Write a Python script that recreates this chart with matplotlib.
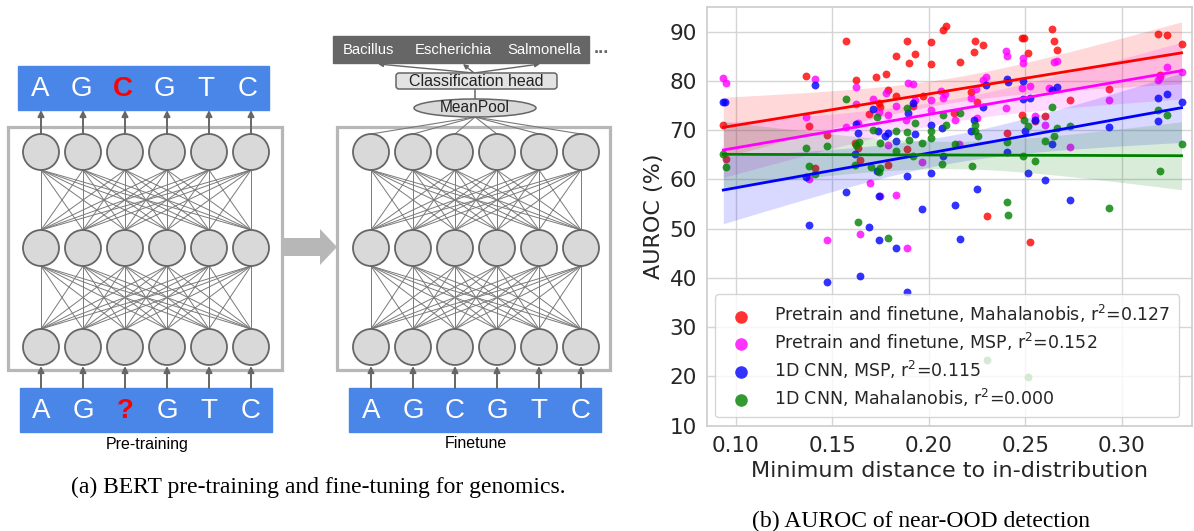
import numpy as np
import matplotlib
matplotlib.use("Agg")
import matplotlib.pyplot as plt
from matplotlib.patches import Circle, Rectangle, FancyBboxPatch, Ellipse, Polygon

# ---- panel (b) data ----
red_x = [0.0936, 0.0948, 0.1363, 0.1381, 0.1411, 0.1473, 0.1571, 0.1623, 0.1618, 0.1635,
         0.1644, 0.1692, 0.1727, 0.1779, 0.1791, 0.1744, 0.1748, 0.1791, 0.1831, 0.1829,
         0.1886, 0.1900, 0.1929, 0.1886, 0.1920, 0.1969, 0.2012, 0.2012, 0.2072, 0.2090,
         0.2133, 0.2162, 0.2219, 0.2240, 0.2235, 0.2283, 0.2249, 0.2300, 0.2404, 0.2482,
         0.2496, 0.2516, 0.2482, 0.2525, 0.2551, 0.2600, 0.2637, 0.2651, 0.2663, 0.2732,
         0.2934, 0.3186, 0.3233, 0.3310, 0.3198]
red_y = [71.0, 64.2, 81.1, 70.8, 62.3, 69.1, 88.1, 80.2, 67.4, 66.3,
         64.0, 73.3, 80.8, 81.4, 78.1, 75.5, 74.8, 63.0, 85.1, 76.9,
         88.1, 83.6, 85.4, 66.1, 75.0, 76.9, 88.0, 83.4, 90.4, 91.2,
         73.6, 83.9, 77.7, 88.2, 85.8, 87.4, 75.7, 52.6, 69.4, 88.8,
         88.8, 85.6, 73.1, 47.3, 71.8, 72.9, 90.5, 88.2, 86.3, 76.2,
         78.3, 89.5, 89.3, 87.6, 81.2]

mag_x = [0.0936, 0.0948, 0.1411, 0.1363, 0.1380, 0.1473, 0.1570, 0.1623, 0.1623, 0.1635,
         0.1644, 0.1696, 0.1713, 0.1744, 0.1787, 0.1779, 0.1791, 0.1748, 0.1830, 0.1830,
         0.1895, 0.1920, 0.1882, 0.1886, 0.1929, 0.1964, 0.2012, 0.2012, 0.2064, 0.2085,
         0.2074, 0.2136, 0.2159, 0.2219, 0.2245, 0.2249, 0.2283, 0.2296, 0.2400, 0.2407,
         0.2400, 0.2487, 0.2490, 0.2482, 0.2525, 0.2551, 0.2600, 0.2625, 0.2651, 0.2663,
         0.2732, 0.2934, 0.3198, 0.3190, 0.3233, 0.3310]
mag_y = [80.6, 79.6, 80.4, 72.7, 60.0, 47.6, 70.7, 78.7, 75.4, 71.5,
         49.0, 59.3, 76.4, 73.8, 73.1, 77.5, 66.9, 56.6, 56.9, 75.0,
         79.5, 79.3, 72.1, 46.1, 76.2, 63.5, 76.2, 74.2, 77.9, 77.4,
         76.5, 72.1, 67.2, 76.5, 78.3, 72.5, 80.2, 80.8, 86.1, 85.1,
         74.5, 84.6, 83.6, 78.5, 79.0, 72.8, 71.1, 78.5, 83.9, 84.0,
         66.5, 76.2, 80.8, 80.2, 82.8, 81.9]

blue_x = [0.0936, 0.0945, 0.1411, 0.1363, 0.1380, 0.1473, 0.1571, 0.1623, 0.1635, 0.1618,
          0.1644, 0.1692, 0.1713, 0.1739, 0.1776, 0.1790, 0.1734, 0.1744, 0.1744, 0.1831,
          0.1829, 0.1895, 0.1920, 0.1929, 0.1886, 0.1886, 0.1964, 0.2012, 0.2012, 0.2067,
          0.2073, 0.2136, 0.2162, 0.2235, 0.2219, 0.2249, 0.2283, 0.2297, 0.2404, 0.2409,
          0.2407, 0.2487, 0.2490, 0.2499, 0.2516, 0.2525, 0.2551, 0.2600, 0.2637, 0.2663,
          0.2637, 0.2732, 0.2934, 0.3190, 0.3233, 0.3186, 0.3310]
blue_y = [75.8, 75.8, 79.2, 60.5, 50.7, 39.1, 57.5, 71.3, 69.4, 65.2,
          40.3, 50.3, 74.3, 69.8, 68.9, 69.4, 61.7, 56.6, 47.7, 67.8,
          46.1, 73.5, 75.5, 69.2, 60.8, 37.2, 53.9, 71.1, 61.3, 70.4,
          64.8, 54.9, 48.0, 72.0, 69.8, 58.1, 74.8, 79.2, 80.4, 79.9,
          65.5, 76.3, 80.0, 69.8, 61.3, 76.6, 72.1, 59.8, 78.2, 78.7,
          67.3, 55.9, 70.6, 76.6, 77.3, 71.8, 75.8]

green_x = [0.0936, 0.0948, 0.1363, 0.1380, 0.1411, 0.1473, 0.1571, 0.1623, 0.1640, 0.1618,
           0.1635, 0.1730, 0.1713, 0.1748, 0.1700, 0.1748, 0.1744, 0.1791, 0.1831, 0.1829,
           0.1886, 0.1886, 0.1900, 0.1929, 0.1920, 0.2012, 0.2012, 0.1967, 0.2067, 0.2076,
           0.2090, 0.2162, 0.2136, 0.2223, 0.2240, 0.2240, 0.2257, 0.2404, 0.2409, 0.2404,
           0.2496, 0.2516, 0.2490, 0.2300, 0.2516, 0.2637, 0.2600, 0.2551, 0.2663, 0.2651,
           0.2732, 0.2934, 0.3186, 0.3233, 0.3198, 0.3310]
green_y = [65.2, 62.5, 66.3, 62.8, 61.2, 66.7, 76.4, 67.0, 67.6, 62.9,
           51.3, 72.7, 70.1, 67.4, 62.5, 62.3, 61.5, 48.2, 69.8, 65.7,
           74.5, 69.6, 68.1, 71.4, 64.7, 69.8, 68.4, 67.4, 63.2, 73.1,
           71.1, 73.5, 67.1, 62.8, 71.1, 69.8, 68.8, 55.4, 52.7, 67.7,
           72.1, 70.9, 64.7, 23.4, 19.9, 74.8, 67.8, 63.8, 70.4, 68.8,
           70.9, 54.1, 74.2, 73.0, 61.7, 67.3]

labels = ["Pretrain and finetune, Mahalanobis, r$^2$=0.127",
          "Pretrain and finetune, MSP, r$^2$=0.152",
          "1D CNN, MSP, r$^2$=0.115",
          "1D CNN, Mahalanobis, r$^2$=0.000"]
colors = ["red", "magenta", "blue", "green"]
xticks = [0.10, 0.15, 0.20, 0.25, 0.30]
yticks = [10, 20, 30, 40, 50, 60, 70, 80, 90]

# ---- panel (a) text ----
pre_out = ["A", "G", "C", "G", "T", "C"]
pre_in = ["A", "G", "?", "G", "T", "C"]
fin_in = ["A", "G", "C", "G", "T", "C"]
species = ["Bacillus", "Escherichia", "Salmonella"]

BLUE = "#4a86e8"
GRAY = "#666666"
LIGHT = "#d9d9d9"
FRAME = "#b7b7b7"
SANS = ["Liberation Sans", "DejaVu Sans"]

fig = plt.figure(figsize=(11.94, 5.31), dpi=100)

# diagram axes: 1 unit = 1 pixel
ax0 = fig.add_axes([0, 0, 640 / 1194, 1])
ax0.set_xlim(0, 640)
ax0.set_ylim(531, 0)
ax0.axis("off")

rows_y = [152, 248, 347]
rad = 18


def draw_net(x0, frame_x):
    xs = [x0 + 42 * i for i in range(6)]
    ax0.add_patch(Rectangle((frame_x[0], 127), frame_x[1] - frame_x[0], 243,
                            fill=False, ec=FRAME, lw=2.3, zorder=1))
    # connections
    for r in range(2):
        for xa in xs:
            for xb in xs:
                ax0.plot([xa, xb], [rows_y[r] + rad, rows_y[r + 1] - rad],
                         color="#7a7a7a", lw=0.7, zorder=2)
    for y in rows_y:
        for x in xs:
            ax0.add_patch(Circle((x, y), rad, fc=LIGHT, ec=GRAY, lw=1.3, zorder=3))
    return xs


def up_arrow(x, y_from, y_to):
    ax0.annotate("", xy=(x, y_to), xytext=(x, y_from),
                 arrowprops=dict(arrowstyle="-|>", color=GRAY, lw=1.4,
                                 mutation_scale=9, shrinkA=0, shrinkB=0), zorder=4)


def letter_box(x0, x1, y0, y1, xs, letters, red_idx):
    ax0.add_patch(Rectangle((x0, y0), x1 - x0, y1 - y0, color=BLUE, zorder=3))
    for i, (x, ch) in enumerate(zip(xs, letters)):
        if i == red_idx:
            ax0.text(x, (y0 + y1) / 2 + 1, ch, color="red", fontsize=20, fontweight="bold",
                     ha="center", va="center", family=SANS, zorder=5)
        else:
            ax0.text(x, (y0 + y1) / 2 + 1, ch, color="white", fontsize=20,
                     ha="center", va="center", family=SANS, zorder=5)


# pre-training network
xs_pre = draw_net(41, (8, 282))
letter_box(18, 269, 66, 110, [39.8 + 41.5 * i for i in range(6)], pre_out, 2)
letter_box(20, 272, 388, 432, xs_pre, pre_in, 2)
for x in xs_pre:
    up_arrow(x, 134, 110)
    up_arrow(x, 388, 366)
ax0.text(147, 444, "Pre-training", fontsize=11.5, ha="center", va="center", family=SANS)

# big arrow between the two networks
ax0.add_patch(Polygon([(283, 238), (320, 238), (320, 229), (337, 247),
                       (320, 265), (320, 256), (283, 256)], closed=True,
                      color=FRAME, lw=0, zorder=1))

# finetune network
xs_fin = draw_net(371, (337, 610))
letter_box(349, 601, 388, 432, xs_fin, fin_in, -1)
for x in xs_fin:
    up_arrow(x, 388, 366)
    ax0.plot([x, 475], [134, 117], color="#7a7a7a", lw=0.8, zorder=2)
ax0.text(476, 444, "Finetune", fontsize=11.5, ha="center", va="center", family=SANS)

ax0.add_patch(Ellipse((475, 108), 122, 18, fc=LIGHT, ec=GRAY, lw=1.1, zorder=3))
ax0.text(475, 108, "MeanPool", fontsize=11.2, ha="center", va="center", family=SANS,
         color="#222222", zorder=4)
ax0.plot([475, 475], [99, 89], color=GRAY, lw=1.1, zorder=2)
ax0.add_patch(FancyBboxPatch((396, 73), 161, 16, boxstyle="round,pad=0,rounding_size=3",
                             fc="#e3e3e3", ec=GRAY, lw=1.1, zorder=3))
ax0.text(476, 81.5, "Classification head", fontsize=11.5, ha="center", va="center",
         family=SANS, color="#222222", zorder=4)
ax0.add_patch(Rectangle((333, 36), 256, 27, color=GRAY, zorder=3))
for x, name in zip([368, 453, 544], species):
    ax0.text(x, 50, name, fontsize=10.7, color="white", ha="center", va="center",
             family=SANS, zorder=4)
ax0.text(601, 53, "...", fontsize=13, fontweight="bold", color=GRAY, ha="center",
         va="baseline", family=SANS)
for xt in [378, 463, 540]:
    ax0.annotate("", xy=(xt, 64), xytext=(474, 73),
                 arrowprops=dict(arrowstyle="-|>", color=GRAY, lw=1.0,
                                 mutation_scale=7, shrinkA=0, shrinkB=0), zorder=2)

ax0.text(318.5, 487, "(a) BERT pre-training and fine-tuning for genomics.", fontsize=17,
         ha="center", va="center", family=["Liberation Serif", "DejaVu Serif"])

# ---- panel (b) ----
ax = fig.add_axes([0.5919, 0.1977, 0.4064, 0.7897])
ax.set_facecolor("white")
ax.grid(True, color="#d5d5d5", lw=1.0)
ax.set_axisbelow(True)
for s in ax.spines.values():
    s.set_color("#cccccc")
    s.set_linewidth(1.2)

series = [(red_x, red_y), (mag_x, mag_y), (blue_x, blue_y), (green_x, green_y)]
for (sx, sy), c, lab in zip(series, colors, labels):
    sx = np.array(sx)
    sy = np.array(sy)
    ax.scatter(sx, sy, s=32, color=c, alpha=0.8, lw=0, label=lab, zorder=2)
    slope, icpt = np.polyfit(sx, sy, 1)
    grid = np.linspace(sx.min(), sx.max(), 100)
    fit = slope * grid + icpt
    n = len(sx)
    resid = sy - (slope * sx + icpt)
    s_err = np.sqrt(np.sum(resid ** 2) / (n - 2))
    sxx = np.sum((sx - sx.mean()) ** 2)
    half = 2.0 * s_err * np.sqrt(1.0 / n + (grid - sx.mean()) ** 2 / sxx)
    ax.fill_between(grid, fit - half, fit + half, color=c, alpha=0.15, lw=0, zorder=2)
    ax.plot(grid, fit, color=c, lw=2.0, zorder=3)

ax.set_xlim(0.085, 0.3364)
ax.set_ylim(9.9, 95.1)
ax.set_xticks(xticks)
ax.set_xticklabels(["%.2f" % t for t in xticks])
ax.set_yticks(yticks)
ax.tick_params(length=0, labelsize=15.5, colors="#262626", pad=7)
ax.set_xlabel("Minimum distance to in-distribution", fontsize=16, color="#262626", labelpad=4)
ax.set_ylabel("AUROC (%)", fontsize=16, color="#262626")
leg = ax.legend(loc="lower left", fontsize=12.5, markerscale=1.6, framealpha=0.8,
                edgecolor="#cccccc", handletextpad=0.9, labelspacing=0.33, borderpad=0.5)
for t in leg.get_texts():
    t.set_color("#262626")
leg.set_zorder(5)

fig.text(920.5 / 1194, 1 - 521 / 531, "(b) AUROC of near-OOD detection", fontsize=17,
         ha="center", va="center", family=["Liberation Serif", "DejaVu Serif"])

fig.savefig("out.png", dpi=100)
